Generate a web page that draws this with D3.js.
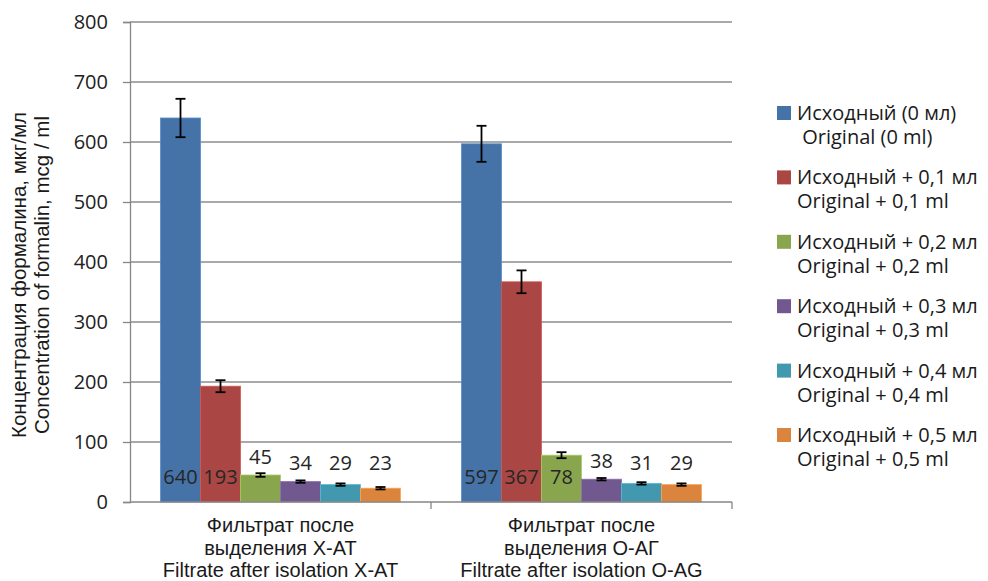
<!DOCTYPE html>
<html lang="ru">
<head>
<meta charset="UTF-8" />
<title>Концентрация формалина</title>
<script src="https://cdn.jsdelivr.net/npm/d3@7"></script>
<style>
    body { margin: 0; padding: 0; background: #fff; }
    text { white-space: pre; }
</style>
</head>
<body>
<script>
// данные
const groups = ['g1', 'g2'];
const groupLabels = [
    ['Фильтрат после', 'выделения X-AT', 'Filtrate after isolation X-AT'],
    ['Фильтрат после', 'выделения O-AГ', 'Filtrate after isolation O-AG']
];
const seriesRu = ['Исходный (0 мл)', 'Исходный + 0,1 мл', 'Исходный + 0,2 мл', 'Исходный + 0,3 мл', 'Исходный + 0,4 мл', 'Исходный + 0,5 мл'];
const seriesEn = [' Original (0 ml)', 'Original + 0,1 ml', 'Original + 0,2 ml', 'Original + 0,3 ml', 'Original + 0,4 ml', 'Original + 0,5 ml'];
const valuesXAT = [640, 193, 45, 34, 29, 23];
const valuesOAG = [597, 367, 78, 38, 31, 29];
const errorsXAT = [32, 10, 3, 2, 2, 2];
const errorsOAG = [30, 19, 5, 2, 2, 2];
const yTicks = [0, 100, 200, 300, 400, 500, 600, 700, 800];
const colors = ['#4572A7', '#AA4643', '#89A54E', '#71588F', '#4198AF', '#DB843D'];

const values = [valuesXAT, valuesOAG];
const errors = [errorsXAT, errorsOAG];

const W = 988, H = 581;
const mLeft = 130, mRight = 732, mTop = 22, mBottom = 502;

const svg = d3.select('body').append('svg')
    .attr('width', W)
    .attr('height', H);

const y = d3.scaleLinear().domain([0, 800]).range([mBottom, mTop]);
const x0 = d3.scaleBand().domain(groups).range([mLeft, mRight]).paddingInner(0).paddingOuter(0);
// ширина группы ~240 из ~301
const groupW = 240;
const x1 = d3.scaleBand().domain(d3.range(6))
    .range([(x0.bandwidth() - groupW) / 2, (x0.bandwidth() + groupW) / 2])
    .paddingInner(0).paddingOuter(0);

// сетка
svg.append('g')
    .selectAll('line')
    .data(yTicks.filter(d => d > 0))
    .join('line')
    .attr('x1', mLeft).attr('x2', mRight)
    .attr('y1', d => y(d)).attr('y2', d => y(d))
    .attr('stroke', '#8c8c8c')
    .attr('stroke-width', 1.3);

// ось Y
const yAxis = svg.append('g')
    .attr('transform', `translate(${mLeft},0)`)
    .call(d3.axisLeft(y).tickValues(yTicks).tickSize(7).tickPadding(15));
yAxis.select('.domain').attr('stroke', '#868686').attr('stroke-width', 1.3);
yAxis.selectAll('.tick line').attr('stroke', '#868686').attr('stroke-width', 1.3);
yAxis.selectAll('.tick text')
    .attr('font-family', '"Open Sans", sans-serif')
    .attr('font-size', 20)
    .attr('fill', '#222');

// столбцы
const gBars = svg.append('g')
    .selectAll('g')
    .data(groups)
    .join('g')
    .attr('transform', d => `translate(${x0(d)},0)`);

gBars.each(function (g, gi) {
    const sel = d3.select(this);
    const rows = values[gi].map((v, i) => ({ v, e: errors[gi][i], i }));

    sel.selectAll('rect')
        .data(rows)
        .join('rect')
        .attr('x', d => x1(d.i))
        .attr('y', d => y(d.v))
        .attr('width', x1.bandwidth())
        .attr('height', d => y(0) - y(d.v))
        .attr('fill', d => colors[d.i])
        .attr('stroke', d => d3.color(colors[d.i]).brighter(0.6))
        .attr('stroke-width', 0.8);

    // планки погрешностей
    const eb = sel.selectAll('g.err')
        .data(rows)
        .join('g')
        .attr('class', 'err')
        .attr('stroke', '#000')
        .attr('stroke-width', 1.8);
    eb.append('line')
        .attr('x1', d => x1(d.i) + x1.bandwidth() / 2)
        .attr('x2', d => x1(d.i) + x1.bandwidth() / 2)
        .attr('y1', d => y(d.v + d.e))
        .attr('y2', d => y(d.v - d.e));
    eb.append('line')
        .attr('x1', d => x1(d.i) + x1.bandwidth() / 2 - 5)
        .attr('x2', d => x1(d.i) + x1.bandwidth() / 2 + 5)
        .attr('y1', d => y(d.v + d.e))
        .attr('y2', d => y(d.v + d.e));
    eb.append('line')
        .attr('x1', d => x1(d.i) + x1.bandwidth() / 2 - 5)
        .attr('x2', d => x1(d.i) + x1.bandwidth() / 2 + 5)
        .attr('y1', d => y(d.v - d.e))
        .attr('y2', d => y(d.v - d.e));

    // подписи значений
    sel.selectAll('text.val')
        .data(rows)
        .join('text')
        .attr('class', 'val')
        .attr('x', d => x1(d.i) + x1.bandwidth() / 2)
        .attr('y', d => d.v > 60 ? y(0) - 18 : Math.min(y(d.v) - 11, y(0) - 32))
        .attr('text-anchor', 'middle')
        .attr('font-family', '"Open Sans", sans-serif')
        .attr('font-size', 20)
        .attr('fill', '#262626')
        .text(d => d.v);
});

// ось X
svg.append('line')
    .attr('x1', mLeft).attr('x2', mRight)
    .attr('y1', y(0)).attr('y2', y(0))
    .attr('stroke', '#868686').attr('stroke-width', 1.3);
svg.append('g')
    .selectAll('line')
    .data(groups)
    .join('line')
    .attr('x1', d => x0(d) + x0.bandwidth())
    .attr('x2', d => x0(d) + x0.bandwidth())
    .attr('y1', y(0)).attr('y2', y(0) + 7)
    .attr('stroke', '#868686').attr('stroke-width', 1.3);

svg.append('g')
    .selectAll('text')
    .data(groups)
    .join('text')
    .attr('x', d => x0(d) + x0.bandwidth() / 2)
    .attr('text-anchor', 'middle')
    .attr('font-family', '"Liberation Sans", Arial, sans-serif')
    .attr('font-size', 20)
    .attr('fill', '#1a1a1a')
    .each(function (d, i) {
        d3.select(this).selectAll('tspan')
            .data(groupLabels[i])
            .join('tspan')
            .attr('x', x0(d) + x0.bandwidth() / 2)
            .attr('y', (t, j) => 532 + j * 22.5)
            .text(t => t);
    });

// подпись оси Y
const yTitle = svg.append('text')
    .attr('transform', 'translate(0,275) rotate(-90)')
    .attr('text-anchor', 'middle')
    .attr('font-family', '"Liberation Sans", Arial, sans-serif')
    .attr('font-size', 20.5)
    .attr('fill', '#1a1a1a');
yTitle.append('tspan').attr('x', 0).attr('y', 26).text('Концентрация формалина, мкг/мл');
yTitle.append('tspan').attr('x', 0).attr('y', 49).text('Concentration of formalin, mcg / ml');

// легенда
const legend = svg.append('g')
    .selectAll('g')
    .data(seriesRu)
    .join('g')
    .attr('transform', (d, i) => `translate(777,${113 + i * 64.4})`);
legend.append('rect')
    .attr('x', 0).attr('y', -7)
    .attr('width', 14).attr('height', 14)
    .attr('fill', (d, i) => colors[i]);
legend.append('text')
    .attr('x', 20).attr('y', 7)
    .attr('font-family', '"Open Sans", sans-serif')
    .attr('font-size', 20)
    .attr('fill', '#1a1a1a')
    .text(d => d);
legend.append('text')
    .attr('x', 20).attr('y', 31)
    .attr('font-family', '"Open Sans", sans-serif')
    .attr('font-size', 20)
    .attr('fill', '#1a1a1a')
    .text((d, i) => seriesEn[i]);
</script>
</body>
</html>
